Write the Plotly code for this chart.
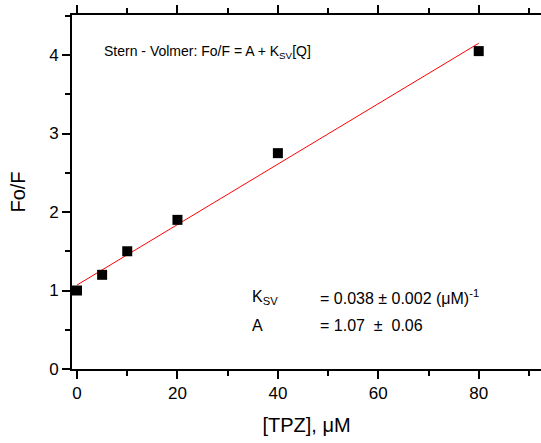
import plotly.graph_objects as go

tpz = [0, 5, 10, 20, 40, 80]
fof = [1.0, 1.2, 1.5, 1.9, 2.75, 4.05]
fit_x = [0, 80]
A = 1.07
KSV = 0.0385
fit_y = [A + KSV * x for x in fit_x]

fig = go.Figure()
fig.add_trace(go.Scatter(x=fit_x, y=fit_y, mode="lines",
                         line=dict(color="red", width=1), showlegend=False))
fig.add_trace(go.Scatter(x=tpz, y=fof, mode="markers",
                         marker=dict(symbol="square", size=10, color="black"),
                         showlegend=False))

font = dict(family="Liberation Sans, Arial, sans-serif", color="black")
W, H = 541, 443
l, r, t, b = 72, 0, 15, 74
fig.update_layout(
    width=W, height=H,
    margin=dict(l=l, r=r, t=t, b=b),
    paper_bgcolor="white", plot_bgcolor="white",
    font=dict(**font, size=16),
    xaxis=dict(range=[-1.0, 92.4], showgrid=False, zeroline=False,
               showline=True, linecolor="black", linewidth=2, mirror="ticks",
               ticks="outside", ticklen=8, tickwidth=2, tickcolor="black",
               tickvals=[0, 20, 40, 60, 80],
               minor=dict(dtick=10, tick0=0, ticks="outside", ticklen=5, tickwidth=2, tickcolor="black"),
               tickfont=dict(size=17),
               title=dict(text="[TPZ], μM", font=dict(size=20), standoff=16)),
    yaxis=dict(range=[0, 4.51], showgrid=False, zeroline=False,
               showline=True, linecolor="black", linewidth=2, mirror=False,
               ticks="outside", ticklen=8, tickwidth=2, tickcolor="black",
               tickvals=[0, 1, 2, 3, 4],
               minor=dict(dtick=0.5, tick0=0, ticks="outside", ticklen=5, tickwidth=2, tickcolor="black"),
               tickfont=dict(size=17),
               title=dict(text="Fo/F", font=dict(size=20), standoff=18)),
)

ann = [
    (102, 52, "Stern - Volmer: Fo/F = A + K<sub>SV</sub>[Q]", 14),
    (250, 297, "K<sub>SV</sub>", 16),
    (318, 297, "= 0.038 ± 0.002 (μM)<sup>-1</sup>", 16),
    (250, 325, "A", 16),
    (318, 325, "= 1.07  ±  0.06", 16),
]
for px, py, txt, sz in ann:
    fig.add_annotation(
        x=(px - l) / (W - l - r), y=1 - (py - t) / (H - t - b),
        xref="paper", yref="paper", xanchor="left", yanchor="middle",
        text=txt, showarrow=False, font=dict(size=sz))

fig.write_html("out.html")
